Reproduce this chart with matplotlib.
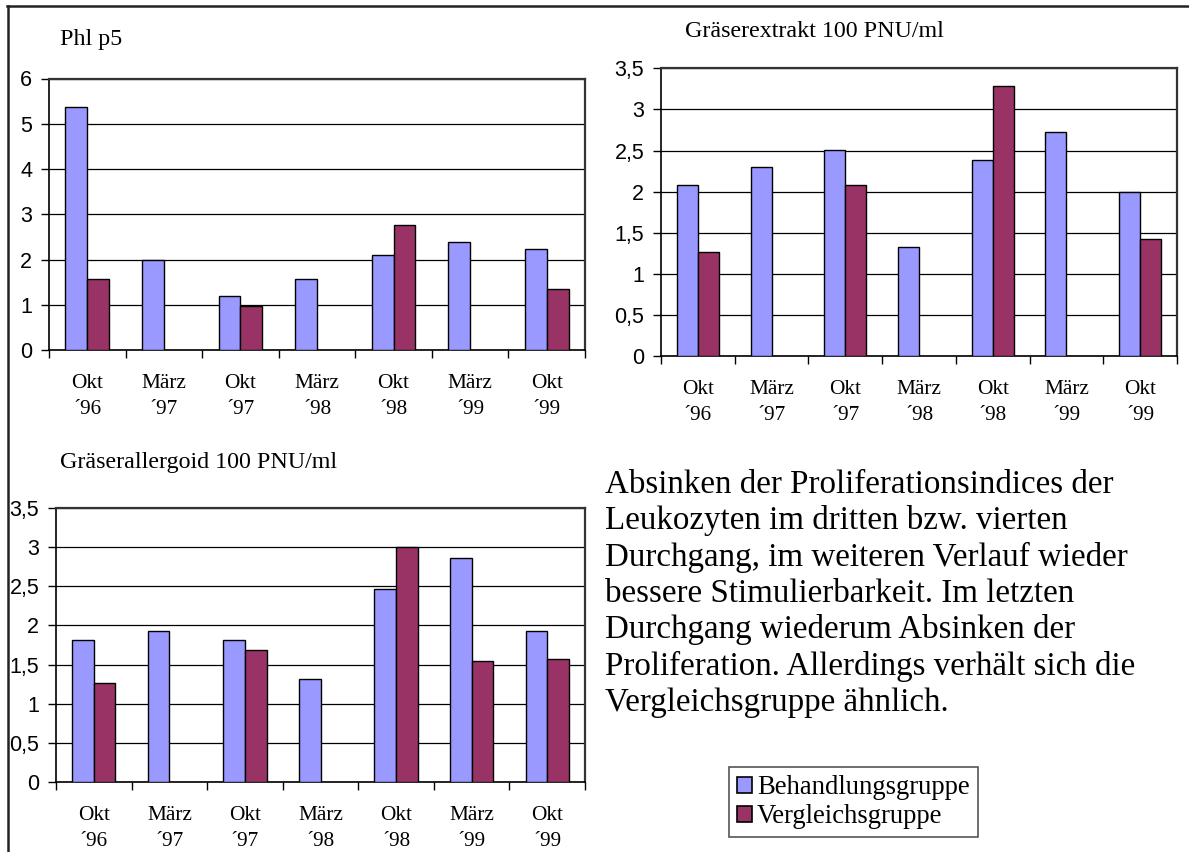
import matplotlib
matplotlib.use("Agg")
import numpy as np
import matplotlib.pyplot as plt
from matplotlib.patches import Patch
from matplotlib.lines import Line2D
from matplotlib.ticker import FuncFormatter, MultipleLocator

W, H, DPI = 1189, 852, 100

# --- data -------------------------------------------------------------
categories = ["Okt\n´96", "März\n´97", "Okt\n´97", "März\n´98",
              "Okt\n´98", "März\n´99", "Okt\n´99"]
series_names = ["Behandlungsgruppe", "Vergleichsgruppe"]

phl_behandlung = [5.37, 1.98, 1.20, 1.56, 2.09, 2.39, 2.24]
phl_vergleich = [1.56, None, 0.98, None, 2.76, None, 1.34]

extrakt_behandlung = [2.08, 2.30, 2.51, 1.32, 2.38, 2.73, 2.00]
extrakt_vergleich = [1.26, None, 2.08, None, 3.28, None, 1.42]

allergoid_behandlung = [1.81, 1.93, 1.81, 1.31, 2.46, 2.86, 1.93]
allergoid_vergleich = [1.26, None, 1.68, None, 3.00, 1.55, 1.57]

titles = ["Phl p5", "Gräserextrakt 100 PNU/ml", "Gräserallergoid 100 PNU/ml"]

note_lines = [
    "Absinken der Proliferationsindices der",
    "Leukozyten im dritten bzw. vierten",
    "Durchgang, im weiteren Verlauf wieder",
    "bessere Stimulierbarkeit. Im letzten",
    "Durchgang wiederum Absinken der",
    "Proliferation. Allerdings verhält sich die",
    "Vergleichsgruppe ähnlich.",
]

# --- style ------------------------------------------------------------
colors = ["#9999FF", "#993366"]
SERIF = ["Liberation Serif", "DejaVu Serif"]

fig = plt.figure(figsize=(W / DPI, H / DPI), dpi=DPI)
fig.patch.set_facecolor("white")


def rect(l, t, r, b):
    """Pixel box (left, top, right, bottom) -> figure fraction rect."""
    return [l / W, 1 - b / H, (r - l) / W, (b - t) / H]


def comma(v, _pos):
    return f"{v:g}".replace(".", ",")


def draw_panel(box, beh, verg, ymax, ystep, title, title_xy):
    ax = fig.add_axes(rect(*box))
    n = len(categories)
    centers = np.arange(n) + 0.5
    w = 1 / 3.5
    for vals, off, c in ((beh, -w / 2, colors[0]), (verg, w / 2, colors[1])):
        idx = [i for i, v in enumerate(vals) if v is not None]
        ax.bar(centers[idx] + off, [vals[i] for i in idx], width=w,
               color=c, edgecolor="black", linewidth=1.0, zorder=3)

    ax.set_xlim(0, n)
    ax.set_ylim(0, ymax)
    ax.yaxis.set_major_locator(MultipleLocator(ystep))
    ax.yaxis.set_major_formatter(FuncFormatter(comma))
    ax.grid(axis="y", color="black", linewidth=0.9, zorder=1)
    ax.set_axisbelow(True)

    ax.set_xticks(np.arange(n + 1))
    ax.set_xticklabels([])
    ax.set_xticks(centers, minor=True)
    ax.set_xticklabels(categories, minor=True, fontsize=15.3,
                       family=SERIF, linespacing=1.5)
    ax.tick_params(axis="x", which="major", direction="out", length=6,
                   width=1, color="black")
    ax.tick_params(axis="x", which="minor", length=0, pad=17)
    ax.tick_params(axis="y", direction="out", length=6, width=1, pad=6,
                   labelsize=15.5, labelfontfamily="Liberation Sans")

    for side in ("left", "bottom"):
        ax.spines[side].set_color("black")
        ax.spines[side].set_linewidth(1.2)
    for side in ("top", "right"):
        ax.spines[side].set_color("#333333")
        ax.spines[side].set_linewidth(1.6)

    fig.text(title_xy[0] / W, 1 - title_xy[1] / H, title, family=SERIF,
             fontsize=17.3, ha="left", va="baseline")
    return ax


draw_panel((49, 78.5, 585, 350), phl_behandlung, phl_vergleich, 6, 1,
           titles[0], (60, 45))
draw_panel((661, 68.3, 1177, 356), extrakt_behandlung, extrakt_vergleich,
           3.5, 0.5, titles[1], (685, 37))
draw_panel((56, 508, 585, 782), allergoid_behandlung, allergoid_vergleich,
           3.5, 0.5, titles[2], (60, 468))

# explanatory note
for i, line in enumerate(note_lines):
    fig.text(605 / W, 1 - (493 + 36.3 * i) / H, line, family=SERIF,
             fontsize=23.8, ha="left", va="baseline")

# legend
handles = [Patch(facecolor=c, edgecolor="black", linewidth=1.2) for c in colors]
leg = fig.legend(handles, series_names, loc="upper left",
                 bbox_to_anchor=(729 / W, 1 - 767 / H),
                 bbox_transform=fig.transFigure,
                 prop={"family": SERIF, "size": 19.2},
                 frameon=True, fancybox=False, edgecolor="#555555",
                 framealpha=1, handlelength=0.55, handleheight=0.55,
                 handletextpad=0.2, borderpad=0.3, labelspacing=0.15,
                 borderaxespad=0)
leg.get_frame().set_linewidth(1.2)

# page frame (top and left edges)
fig.add_artist(Line2D([7 / W, 1], [1 - 5.5 / H, 1 - 5.5 / H],
                      color="#222222", linewidth=1.8))
fig.add_artist(Line2D([7.5 / W, 7.5 / W], [0, 1 - 5.5 / H],
                      color="#222222", linewidth=1.8))

fig.savefig("out.png", dpi=DPI, facecolor="white")
